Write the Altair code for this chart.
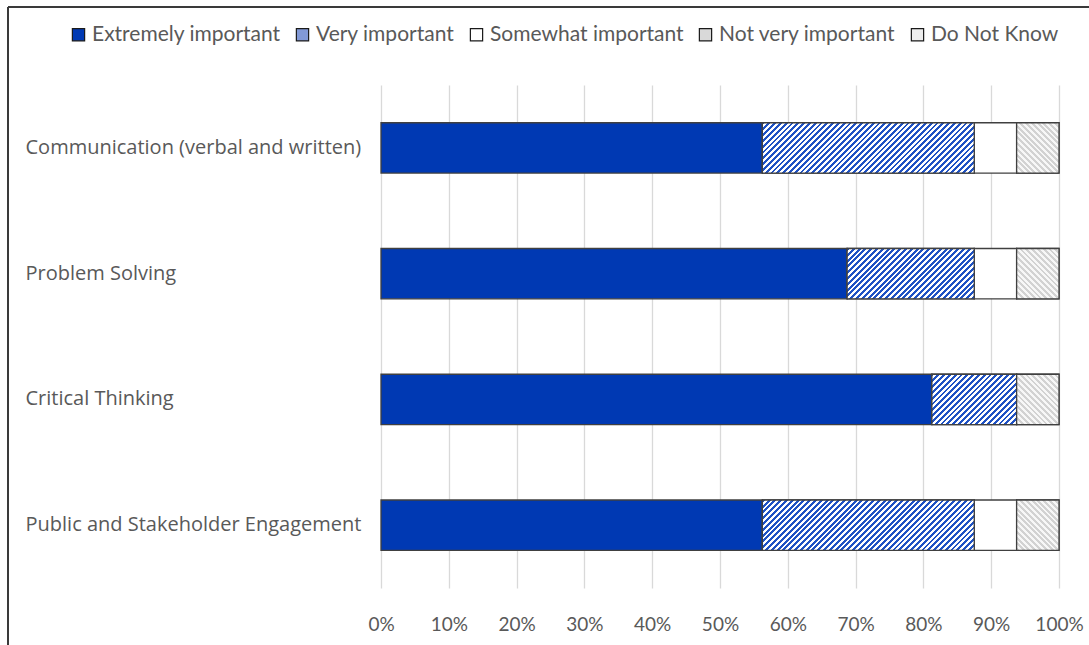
import math
import altair as alt
import pandas as pd

categories = [
    "Communication (verbal and written)",
    "Problem Solving",
    "Critical Thinking",
    "Public and Stakeholder Engagement",
]
responses = ["Extremely important", "Very important", "Somewhat important",
             "Not very important", "Do Not Know"]
extremely = [0.5625, 0.6875, 0.8125, 0.5625]
very = [0.3125, 0.1875, 0.125, 0.3125]
somewhat = [0.0625, 0.0625, 0.0, 0.0625]
not_very = [0.0, 0.0, 0.0, 0.0]
dont_know = [0.0625, 0.0625, 0.0625, 0.0625]
tick_values = [0, 0.1, 0.2, 0.3, 0.4, 0.5, 0.6, 0.7, 0.8, 0.9, 1.0]

legend_fills = ["#0039B3", "#8299D6", "#FFFFFF", "#D9D9D9", "#EDEDED"]

PW, PH = 678, 503
PAD_L, PAD_T = 381, 85
BAND_PAD_IN, BAND_PAD_OUT = 0.6, 0.3
bandwidth = PH / (len(categories) - BAND_PAD_IN + 2 * BAND_PAD_OUT) * (1 - BAND_PAD_IN)

series = [extremely, very, somewhat, not_very, dont_know]
rows = []
for ci, cat in enumerate(categories):
    start = 0.0
    for ri, resp in enumerate(responses):
        v = series[ri][ci]
        if v > 0:
            rows.append({"category": cat, "response": resp, "value": v,
                         "start": start, "end": start + v})
        start += v
df = pd.DataFrame(rows)


def hatch(width_px, height_px, period, c_stripe, c_bg, direction):
    W, H = width_px, height_px
    c = (W + H) / (W * W + H * H)
    if direction == "/":
        x1, y1, x2, y2 = 0, 0, c * W, c * H
    else:
        x1, y1, x2, y2 = 0, 1, c * W, 1 - c * H
    n = (W + H) / (period * math.sqrt(2))
    stops = []
    k = 0
    while k / n < 1:
        t0 = k / n
        th = min((k + 0.5) / n, 1)
        t1 = min((k + 1) / n, 1)
        stops += [alt.GradientStop(offset=t0, color=c_stripe),
                  alt.GradientStop(offset=th, color=c_stripe),
                  alt.GradientStop(offset=th, color=c_bg),
                  alt.GradientStop(offset=t1, color=c_bg)]
        k += 1
    return alt.LinearGradient(gradient="linear", stops=stops,
                              x1=x1, y1=y1, x2=x2, y2=y2)


x_enc = alt.X("start:Q", scale=alt.Scale(domain=[0, 1], nice=False),
              axis=alt.Axis(values=tick_values, format=".0%", title=None,
                            grid=True, gridColor="#D9D9D9", gridWidth=1.3,
                            domain=False, ticks=False, labelPadding=27,
                            labelOverlap=False, labelFlush=False,
                            labelFont="Lato", labelFontSize=19,
                            labelColor="#595959"))
y_enc = alt.Y("category:N", sort=categories,
              scale=alt.Scale(paddingInner=BAND_PAD_IN, paddingOuter=BAND_PAD_OUT),
              axis=alt.Axis(title=None, domain=False, ticks=False, grid=False,
                            labelAlign="left", labelPadding=PAD_L - 25,
                            labelLimit=400, labelFont="Open Sans",
                            labelFontSize=20, labelColor="#595959"))

base = alt.Chart(df)
main = base.mark_bar(stroke="#404040", strokeWidth=1.3).encode(
    x=x_enc, x2="end:Q", y=y_enc,
    fill=alt.Fill("response:N",
                  scale=alt.Scale(domain=responses, range=legend_fills),
                  legend=alt.Legend(title=None, orient="none",
                                    legendX=68 - PAD_L, legendY=24 - PAD_T,
                                    direction="horizontal",
                                    symbolType="square", symbolSize=150,
                                    symbolStrokeColor="#1A1A1A",
                                    symbolStrokeWidth=1.2,
                                    labelFont="Lato", labelFontSize=21,
                                    labelLimit=400,
                                    labelColor="#595959", labelOffset=3,
                                    columnPadding=11)),
)

layers = [main]
for _, r in df.iterrows():
    if r["response"] == "Very important":
        grad = hatch(r["value"] * PW, bandwidth, 4.1, "#1F52C4", "#FFFFFF", "/")
    elif r["response"] == "Do Not Know":
        grad = hatch(r["value"] * PW, bandwidth, 4.1, "#D2D2D2", "#F7F7F7", "\\")
    else:
        continue
    layers.append(
        base.transform_filter(
            (alt.datum.category == r["category"]) & (alt.datum.response == r["response"])
        ).mark_bar(fill=grad, stroke="#404040", strokeWidth=1.3).encode(
            x="start:Q", x2="end:Q", y=alt.Y("category:N", sort=categories)
        )
    )

frame_top = base.mark_rule(color="#3A3A3A", strokeWidth=2).encode(
    x=alt.value(8 - PAD_L), x2=alt.value(1089 - PAD_L), y=alt.value(7 - PAD_T))
frame_left = base.mark_rule(color="#3A3A3A", strokeWidth=2).encode(
    x=alt.value(8 - PAD_L), y=alt.value(7 - PAD_T), y2=alt.value(645 - PAD_T))
layers += [frame_top, frame_left]

chart = alt.layer(*layers).properties(
    width=PW, height=PH,
    autosize=alt.AutoSizeParams(type="none"),
    padding={"left": PAD_L, "top": PAD_T, "right": 1089 - PAD_L - PW,
             "bottom": 645 - PAD_T - PH},
    background="white",
).configure_view(strokeWidth=0)

chart.save("out.html", embed_options={"renderer": "svg", "actions": False})
